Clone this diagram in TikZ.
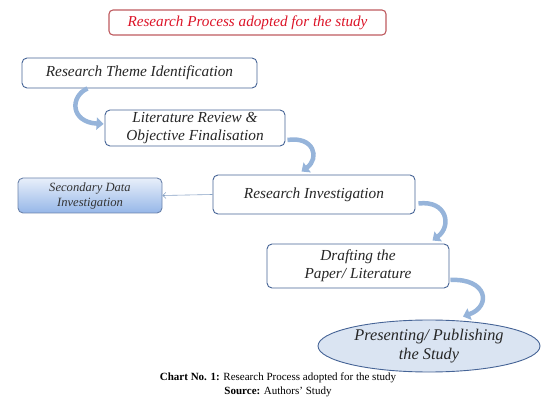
\documentclass[tikz,border=0pt]{standalone}
\usepackage{fontspec}
\setmainfont{Liberation Serif}
\usetikzlibrary{arrows.meta,calc,shapes.geometric}
\definecolor{boxline}{RGB}{70,100,150}
\definecolor{arrowblue}{RGB}{150,180,218}
\definecolor{titlered}{RGB}{220,20,40}
\definecolor{titleline}{RGB}{190,90,95}
\definecolor{ellfill}{RGB}{218,228,242}
\definecolor{secTop}{RGB}{232,239,250}
\definecolor{secBot}{RGB}{150,183,232}
\tikzset{
  stepbox/.style={draw=boxline, line width=0.9pt, rounded corners=5pt, fill=white,
    align=center, inner sep=0pt, text=black!85, font=\fontsize{15.3}{18}\selectfont\itshape},
  flowarrow/.style={draw=arrowblue, line width=4.5pt,
    -{Triangle[width=12pt,length=7pt]}},
}
\begin{document}
\begin{tikzpicture}[x=1pt,y=-1pt]
\useasboundingbox (0,0) rectangle (551,403);
\node[draw=titleline, line width=1.1pt, rounded corners=4pt, minimum width=277pt, minimum height=25pt,
  text=titlered, font=\fontsize{15.2}{17}\selectfont\itshape] (title) at (247.5,22.5) {Research Process adopted for the study};
\node[stepbox, minimum width=235pt, minimum height=30pt] (b1) at (139.5,73) {Research Theme Identification};
\node[stepbox, minimum width=180pt, minimum height=36pt] (b2) at (195,128) {Literature Review \&\\Objective Finalisation};
\node[stepbox, minimum width=202pt, minimum height=39pt] (b3) at (314,194.5) {Research Investigation};
\node[stepbox, draw=boxline!80, top color=secTop, bottom color=secBot, minimum width=144pt, minimum height=35pt,
  font=\fontsize{12.6}{15}\selectfont\itshape, text=black!80] (sec) at (90,195.5) {Secondary Data\\Investigation};
\node[stepbox, minimum width=182pt, minimum height=44pt] (b4) at (358,266) {Drafting the\\Paper/ Literature};
\node[ellipse, draw=boxline, line width=0.9pt, fill=ellfill, minimum width=222pt, minimum height=52pt, inner sep=0pt,
  align=center, text=black!85, font=\fontsize{16.3}{19}\selectfont\itshape] (ell) at (429,346) {Presenting/ Publishing\\the Study};
\draw[draw=arrowblue!90!black, line width=0.6pt, -{Straight Barb[length=3pt,width=6pt]}] (b3.west) -- (sec.east);
\draw[flowarrow] ($(b1.south west)+(66,0)$) .. controls (70,96) and (70,122) .. ($(b2.west)+(-1,-4)$);
\draw[flowarrow] ($(b2.east)+(2,12)$) .. controls (314,136) and (320,158) .. ($(b3.north west)+(89,-3)$);
\draw[flowarrow] ($(b3.east)+(3,9)$) .. controls (447,200) and (452,226) .. ($(b4.north west)+(166,-3)$);
\draw[flowarrow] ($(b4.east)+(1,14)$) .. controls (487,278) and (492,306) .. ($(ell.north)+(34,-3)$);
\node[font=\fontsize{11}{13.5}\selectfont, align=center] (cap) at (278,385) {\textbf{Chart No. 1:} Research Process adopted for the study\\\textbf{Source:} Authors’ Study};
\end{tikzpicture}
\end{document}
